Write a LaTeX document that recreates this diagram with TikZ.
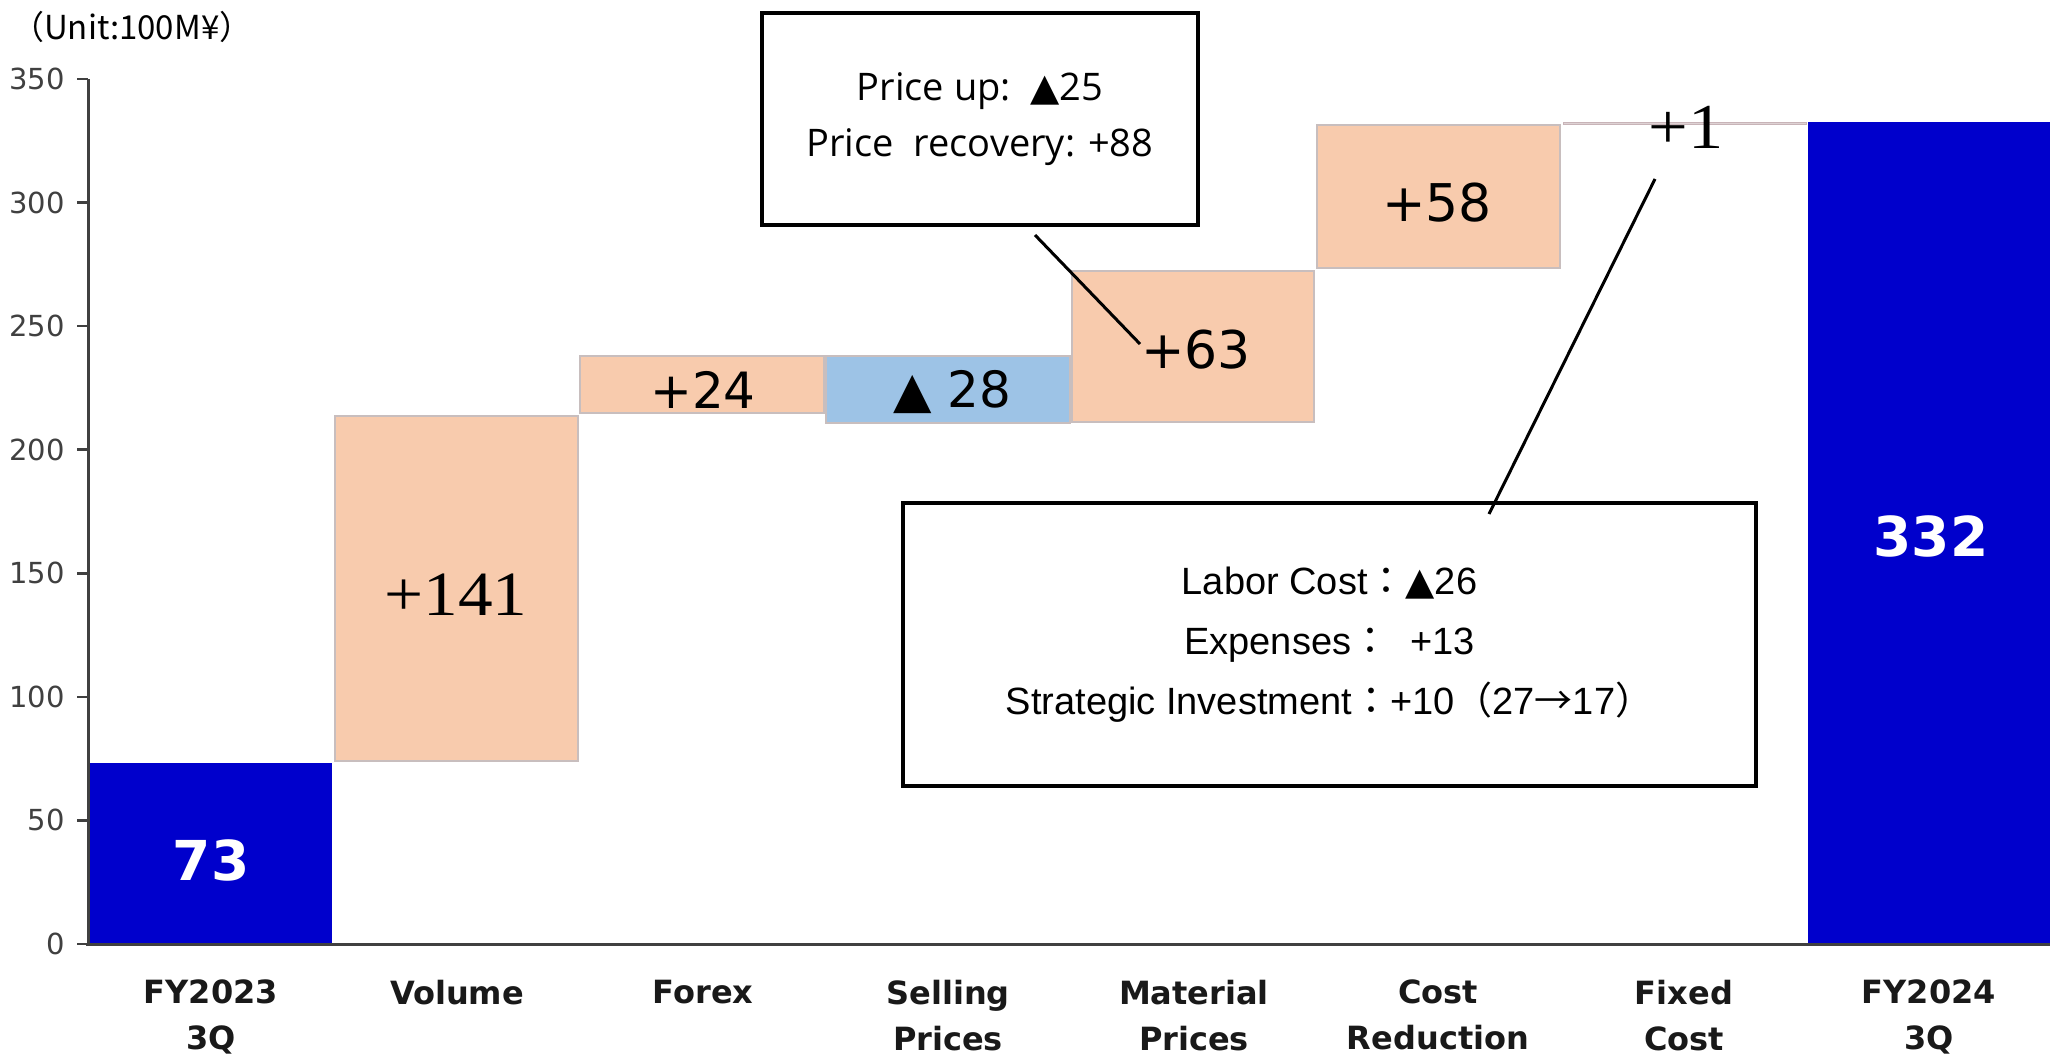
\documentclass[tikz,border=0pt]{standalone}
\usepackage{fontspec}
\setmainfont{DejaVu Sans}
\newfontfamily\dv{DejaVu Sans}
\newfontfamily\cjk{Noto Sans CJK JP}
\newfontfamily\osans{Open Sans}
\newfontfamily\lsans{Liberation Sans}
\newfontfamily\lserif[FakeStretch=1.1]{Liberation Serif}
\definecolor{barblue}{HTML}{0000CC}
\definecolor{barpeach}{HTML}{F8CBAD}
\definecolor{barsky}{HTML}{9DC3E6}
\definecolor{axisgray}{HTML}{404040}
\definecolor{edgegray}{HTML}{C8BEBE}
\definecolor{fixline}{HTML}{C8B4B8}
\tikzset{
  barbox/.style={draw=edgegray, line width=1.5bp},
  peach/.style={barbox, fill=barpeach},
  sky/.style={barbox, fill=barsky},
  navy/.style={fill=barblue},
  vallab/.style={inner sep=0, font=\dv\fontsize{52bp}{60bp}\selectfont},
  whitelab/.style={inner sep=0, text=white, font=\dv\bfseries\fontsize{55bp}{60bp}\selectfont},
  catlab/.style={inner sep=0, anchor=north, align=center, text=black!90,
    font=\dv\bfseries\fontsize{32bp}{46bp}\selectfont},
  ticklab/.style={inner sep=0, anchor=east, text=axisgray, font=\dv\fontsize{29bp}{32bp}\selectfont},
  callout/.style={draw=black, line width=3.5bp, fill=white, inner sep=0, align=center},
  leader/.style={draw=black, line width=3bp}
}
\begin{document}
\begin{tikzpicture}[x=1bp,y=-1bp]
\useasboundingbox[fill=white] (0,0) rectangle (2050,1062);

% unit label
\node[inner sep=0, anchor=west, text=black, font=\cjk\fontsize{33bp}{36bp}\selectfont] (unit) at (11,27) {（Unit:100M¥）};

% bars
\path[navy] (89,763) rectangle (332,944);
\path[peach] (335,416) rectangle (578,761);
\path[peach] (580,356) rectangle (824,413);
\path[sky] (826,356) rectangle (1070,423);
\path[peach] (1072,271) rectangle (1314,422);
\path[peach] (1317,125) rectangle (1560,268);
\path[draw=fixline, line width=1bp, fill=fixline!60] (1563,122) rectangle (1806,124.5);
\path[navy] (1808,122) rectangle (2050,944);

% axes
\draw[axisgray, line width=3bp] (88,79) -- (88,944);
\draw[axisgray, line width=3bp] (86,944) -- (2050,944);
\foreach \v/\yy in {0/944,50/820.4,100/696.9,150/573.3,200/449.7,250/326.2,300/202.6,350/79}{
  \draw[axisgray, line width=2.5bp] (77,\yy) -- (88,\yy);
  \node[ticklab] (t\v) at (65,\yy) {\v};
}

% value labels
\node[whitelab] (v73) at (211,860) {73};
\node[inner sep=0, font=\lserif\fontsize{63bp}{66bp}\selectfont] (v141) at (456,595) {+141};
\node[vallab, font=\dv\fontsize{50bp}{56bp}\selectfont] (v24) at (703,390) {+24};
\node[vallab, font=\dv\fontsize{50bp}{56bp}\selectfont] (v28) at (952,392) {▲ 28};
\node[vallab] (v63) at (1196,350) {+63};
\node[vallab] (v58) at (1437,203) {+58};
\node[inner sep=0, font=\lserif\fontsize{64bp}{66bp}\selectfont] (v1) at (1686,127) {+1};
\node[whitelab] (v332) at (1931,536) {332};

% category labels
\node[catlab] (c1) at (211,980) {FY2023\\3Q};
\node[catlab] (c2) at (457,980) {Volume};
\node[catlab] (c3) at (703,980) {Forex};
\node[catlab] (c4) at (948,980) {Selling\\Prices};
\node[catlab] (c5) at (1194,980) {Material\\Prices};
\node[catlab] (c6) at (1438,980) {Cost\\Reduction};
\node[catlab] (c7) at (1684,980) {Fixed\\Cost};
\node[catlab] (c8) at (1929,980) {FY2024\\3Q};

% callouts
\node[callout, minimum width=436bp, minimum height=212bp,
  font=\osans\fontsize{38bp}{56bp}\selectfont] (box1) at (980,119)
  {Price up:\ \ {\dv ▲}25\\Price\ \ recovery: +88};
\node[callout, minimum width=853bp, minimum height=283bp,
  font=\lsans\fontsize{38bp}{60bp}\selectfont] (box2) at (1329.5,644.5)
  {Labor Cost{\cjk ：}{\dv ▲}26\\
   Expenses{\cjk ：}\ \ +13\\
   Strategic Investment{\cjk ：}+10{\cjk （}27{\cjk →}17{\cjk ）}};

% leaders
\coordinate (p1a) at (1035,235);
\coordinate (p1b) at (1140,344);
\coordinate (p2a) at (1655,179);
\coordinate (p2b) at (1489,514);
\draw[leader] (p1a) -- (p1b);
\draw[leader] (p2a) -- (p2b);
\end{tikzpicture}
\end{document}
